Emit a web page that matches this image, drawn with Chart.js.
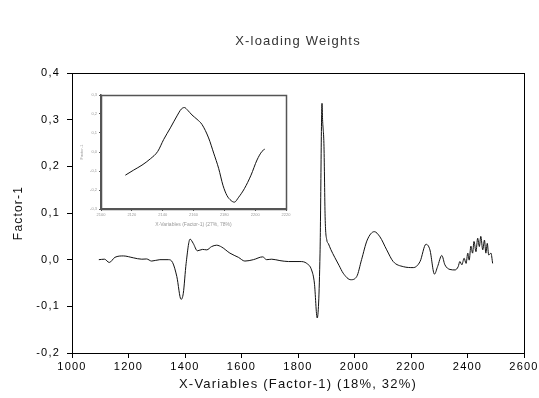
<!DOCTYPE html>
<html>
<head>
<meta charset="utf-8">
<script src="https://cdn.jsdelivr.net/npm/chart.js@4/dist/chart.umd.min.js"></script>
<style>
  html, body { margin: 0; padding: 0; background: #fff; }
  #wrap { position: relative; width: 539px; height: 398px; }
  #main { position: absolute; left: 0; top: 0; }
  #inset { position: absolute; left: 78px; top: 88px; }
</style>
</head>
<body>
<div id="wrap">
  <canvas id="main" width="539" height="398"></canvas>
  <canvas id="inset" width="215" height="140"></canvas>
</div>
<script>
// ---- main chart data (wavelength, Factor-1 loading weight) ----
const mainX = [1095, 1115, 1132, 1152, 1182, 1217, 1247, 1264, 1282, 1311, 1341, 1356, 1371, 1386, 1394,
  1404, 1418, 1429, 1444, 1462, 1477, 1494, 1512, 1530, 1559, 1589, 1612, 1642, 1675, 1689, 1707, 1736,
  1766, 1807, 1831, 1848, 1858, 1868, 1878, 1885, 1887, 1892, 1896, 1902, 1907, 1916, 1930, 1945, 1960,
  1987, 2008, 2025, 2045, 2070, 2090, 2114, 2137, 2173, 2208, 2232, 2253, 2267, 2283, 2294, 2309, 2320,
  2338, 2356, 2367, 2373, 2380, 2388, 2395, 2401, 2406, 2412, 2418, 2423, 2430, 2436, 2442, 2447, 2454,
  2460, 2465, 2470, 2475, 2483, 2489];
const mainY = [0.000, 0.001, -0.006, 0.005, 0.008, 0.004, 0.001, 0.0015, -0.003, 0.000, 0.000, -0.006,
  -0.036, -0.085, -0.072, -0.008, 0.044, 0.035, 0.019, 0.022, 0.021, 0.028, 0.031, 0.027, 0.014, 0.005,
  -0.003, 0.000, 0.006, 0.000, 0.001, -0.002, -0.004, -0.004, -0.008, -0.022, -0.050, -0.125, 0.014,
  0.335, 0.300, 0.242, 0.092, 0.042, 0.035, 0.022, 0.005, -0.012, -0.029, -0.043, -0.036, 0.000, 0.042,
  0.060, 0.049, 0.021, -0.004, -0.015, -0.017, -0.004, 0.033, 0.021, -0.031, -0.015, 0.009, -0.011,
  -0.021, -0.022, -0.015, -0.004, -0.011, 0.003, -0.008, 0.014, -0.001, 0.029, 0.014, 0.039, 0.017,
  0.046, 0.028, 0.050, 0.021, 0.042, 0.014, 0.035, 0.010, 0.014, -0.008];
const mainXTicks = [1000, 1200, 1400, 1600, 1800, 2000, 2200, 2400, 2600];
const mainYTicks = [-0.2, -0.1, 0.0, 0.1, 0.2, 0.3, 0.4];

// ---- inset data ----
const insetX = [2115.8, 2121.2, 2126.6, 2132, 2136.8, 2140.6, 2145, 2149.3, 2152.1, 2154.1, 2156.2, 2159,
  2162.3, 2165.5, 2169.8, 2173.1, 2176.3, 2179.1, 2181.7, 2184.3, 2186.5, 2189.3, 2193, 2197.3, 2201.2,
  2204.4, 2206.2];
const insetY = [-0.122, -0.095, -0.069, -0.036, 0.003, 0.065, 0.127, 0.190, 0.226, 0.234, 0.220, 0.195,
  0.172, 0.145, 0.074, -0.006, -0.086, -0.175, -0.229, -0.255, -0.264, -0.238, -0.193, -0.122, -0.042,
  0.003, 0.015];
const insetXTicks = [2100, 2120, 2140, 2160, 2180, 2200, 2220];
const insetYTicks = [-0.3, -0.2, -0.1, 0.0, 0.1, 0.2, 0.3];

const FONT = "'Liberation Sans', Arial, sans-serif";
const comma = v => (Math.abs(v) < 1e-9 ? 0 : v).toFixed(1).replace('.', ',');

function framePlugin(color, width) {
  return {
    id: 'frame',
    afterDatasetsDraw(chart) {
      const a = chart.chartArea, c = chart.ctx;
      c.save();
      c.strokeStyle = color;
      c.lineWidth = width;
      c.strokeRect(Math.round(a.left) + 0.5, Math.round(a.top) + 0.5,
                   Math.round(a.right - a.left), Math.round(a.bottom - a.top));
      c.restore();
    }
  };
}
function spacingPlugin(px) {
  const set = chart => { chart.ctx.letterSpacing = px; };
  return { id: 'spacing', beforeInit: set, beforeUpdate: set, beforeLayout: set, beforeDraw: set };
}
const whiteBg = {
  id: 'whiteBg',
  beforeDraw(chart) {
    const c = chart.ctx; c.save(); c.fillStyle = '#fff';
    c.fillRect(0, 0, chart.width, chart.height); c.restore();
  }
};

new Chart(document.getElementById('main'), {
  type: 'line',
  data: {
    datasets: [{
      data: mainX.map((x, i) => ({ x: x, y: mainY[i] })),
      borderColor: '#111', borderWidth: 1, pointRadius: 0,
      cubicInterpolationMode: 'monotone', fill: false
    }]
  },
  options: {
    responsive: false, animation: false, devicePixelRatio: 1,
    layout: { padding: { left: 0, right: 15, top: 0, bottom: 0 } },
    plugins: {
      legend: { display: false }, tooltip: { enabled: false },
      title: {
        display: true, fullSize: false, text: 'X-loading Weights', color: '#333',
        font: { family: FONT, size: 13, weight: 'normal' },
        padding: { top: 34, bottom: 23.4 }
      }
    },
    scales: {
      x: {
        type: 'linear', min: 1000, max: 2600,
        afterBuildTicks: s => { s.ticks = mainXTicks.map(v => ({ value: v })); },
        afterFit: s => { s.height = 45; s.paddingLeft = 0; s.paddingRight = 0; },
        ticks: { color: '#000', font: { family: FONT, size: 11 }, padding: 2, maxRotation: 0,
                 callback: v => String(v) },
        grid: { drawOnChartArea: false, drawTicks: true, tickLength: 5, color: '#000' },
        border: { display: true, color: '#000' },
        title: { display: true, text: 'X-Variables (Factor-1) (18%, 32%)', color: '#111',
                 font: { family: FONT, size: 13 }, padding: { top: 4, bottom: 6 } }
      },
      y: {
        type: 'linear', min: -0.2, max: 0.4,
        afterBuildTicks: s => { s.ticks = mainYTicks.map(v => ({ value: v })); },
        afterFit: s => { s.width = 72; },
        ticks: { color: '#000', font: { family: FONT, size: 11 }, padding: 7,
                 callback: v => comma(v) },
        grid: { drawOnChartArea: false, drawTicks: true, tickLength: 5, color: '#000' },
        border: { display: true, color: '#000' },
        title: { display: true, text: 'Factor-1', color: '#111',
                 font: { family: FONT, size: 12 }, padding: { top: 11, bottom: 0 } }
      }
    }
  },
  plugins: [spacingPlugin('1.2px'), whiteBg, framePlugin('#000', 1)]
});

new Chart(document.getElementById('inset'), {
  type: 'line',
  data: {
    datasets: [{
      data: insetX.map((x, i) => ({ x: x, y: insetY[i] })),
      borderColor: '#111', borderWidth: 1, pointRadius: 0,
      cubicInterpolationMode: 'monotone', fill: false
    }]
  },
  options: {
    responsive: false, animation: false, devicePixelRatio: 1,
    layout: { padding: { left: 0, right: 7, top: 7, bottom: 0 } },
    plugins: { legend: { display: false }, tooltip: { enabled: false }, title: { display: false } },
    scales: {
      x: {
        type: 'linear', min: 2100, max: 2220,
        afterBuildTicks: s => { s.ticks = insetXTicks.map(v => ({ value: v })); },
        afterFit: s => { s.height = 19; },
        ticks: { color: '#999', font: { family: FONT, size: 4 }, padding: 1, maxRotation: 0,
                 autoSkip: false, callback: v => String(v) },
        grid: { drawOnChartArea: false, drawTicks: true, tickLength: 2, color: '#555' },
        border: { display: true, color: '#555', width: 1.5 },
        title: { display: true, text: 'X-Variables (Factor-1) (27%, 78%)', color: '#999',
                 font: { family: FONT, size: 5 }, padding: { top: 1, bottom: 0 } }
      },
      y: {
        type: 'linear', min: -0.3, max: 0.3,
        afterBuildTicks: s => { s.ticks = insetYTicks.map(v => ({ value: v })); },
        afterFit: s => { s.width = 23; },
        ticks: { color: '#999', font: { family: FONT, size: 4 }, padding: 2, autoSkip: false,
                 callback: v => comma(v) },
        grid: { drawOnChartArea: false, drawTicks: true, tickLength: 2, color: '#555' },
        border: { display: true, color: '#555', width: 1.5 },
        title: { display: true, text: 'Factor-1', color: '#999',
                 font: { family: FONT, size: 4 }, padding: { top: 1, bottom: 0 } }
      }
    }
  },
  plugins: [whiteBg, framePlugin('#555', 1.5)]
});
</script>
</body>
</html>
